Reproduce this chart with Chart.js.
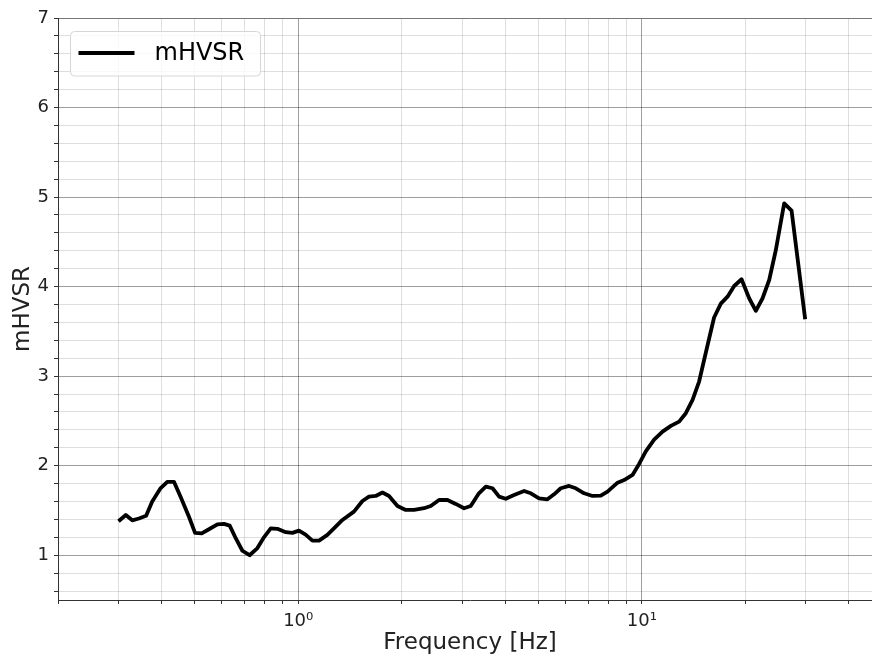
<!DOCTYPE html>
<html>
<head>
<meta charset="utf-8">
<script src="https://cdn.jsdelivr.net/npm/chart.js@4.4.1/dist/chart.umd.min.js"></script>
<style>
  html,body{margin:0;padding:0;background:#fff;overflow:hidden;}
  #wrap{width:889px;height:657px;}
</style>
</head>
<body>
<div id="wrap"><canvas id="hvsr" width="889" height="657"></canvas></div>
<script>
// ===================== DATA =====================
const seriesName='mHVSR';
const freqHz=[0.30,0.315,0.329,0.344,0.361,0.376,0.398,0.416,0.435,0.455,
  0.481,0.501,0.524,0.550,0.582,0.608,0.632,0.658,0.688,0.722,
  0.761,0.795,0.832,0.870,0.920,0.962,1.005,1.051,1.100,1.150,
  1.216,1.286,1.345,1.453,1.538,1.607,1.681,1.759,1.838,1.945,
  2.056,2.174,2.324,2.431,2.570,2.719,2.874,3.039,3.178,3.346,
  3.516,3.677,3.843,4.019,4.249,4.544,4.753,5.023,5.314,5.555,
  5.810,6.143,6.425,6.793,7.187,7.597,7.946,8.501,8.882,9.397,
  9.820,10.27,10.86,11.49,12.15,12.84,13.43,14.05,14.68,15.18,
  15.70,16.23,16.98,17.76,18.57,19.51,20.53,21.47,22.46,23.48,
  24.55,25.96,27.28,28.51,29.88];
const mhvsr=[1.38,1.45,1.39,1.41,1.44,1.60,1.75,1.82,1.82,1.65,
  1.43,1.25,1.245,1.29,1.345,1.35,1.33,1.19,1.05,1.00,
  1.08,1.20,1.30,1.295,1.257,1.25,1.275,1.23,1.163,1.163,
  1.227,1.32,1.394,1.487,1.606,1.655,1.662,1.70,1.662,1.55,
  1.506,1.506,1.525,1.55,1.617,1.617,1.573,1.525,1.55,1.685,
  1.766,1.748,1.655,1.63,1.673,1.718,1.692,1.636,1.625,1.68,
  1.748,1.774,1.748,1.692,1.662,1.666,1.71,1.81,1.84,1.897,
  2.02,2.16,2.29,2.38,2.444,2.492,2.586,2.734,2.94,3.18,
  3.42,3.655,3.81,3.888,4.007,4.082,3.87,3.73,3.87,4.074,
  4.409,4.93,4.848,4.26,3.635];

// axis ticks
const xGridVals=[0.2,0.3,0.4,0.5,0.6,0.7,0.8,0.9,1,2,3,4,5,6,7,8,9,10,20,30,40,50];
const xTickLabels={1:'10\u2070',10:'10\u00b9'};
const yTickLabels=[1,2,3,4,5,6,7];
const yMinorStep=0.2;

// ===================== STYLE =====================
const FONT='"DejaVu Sans", sans-serif';
const MAJOR_GRID='rgba(0,0,0,0.38)';
const MINOR_GRID='rgba(0,0,0,0.13)';

const isDecade=v=>Math.abs(Math.log10(v)-Math.round(Math.log10(v)))<1e-9;
const isInt=v=>Math.abs(v-Math.round(v))<1e-6;

// legend drawn inside the plot, top-left (matplotlib style)
const insideLegend={
  id:'insideLegend',
  afterDatasetsDraw(chart){
    const {ctx,chartArea}=chart;
    const x0=chartArea.left+12.5, y0=chartArea.top+13.5, w=190, h=44.5;
    ctx.save();
    ctx.beginPath();
    ctx.roundRect(x0,y0,w,h,4);
    ctx.fillStyle='rgba(255,255,255,0.8)';
    ctx.fill();
    ctx.strokeStyle='#d6d6d6';
    ctx.lineWidth=1;
    ctx.stroke();
    ctx.beginPath();
    ctx.moveTo(x0+8,y0+21.5);
    ctx.lineTo(x0+64,y0+21.5);
    ctx.strokeStyle='#000';
    ctx.lineWidth=4;
    ctx.stroke();
    ctx.fillStyle='#000';
    ctx.font='24px '+FONT;
    ctx.textBaseline='middle';
    ctx.fillText(chart.data.datasets[0].label,x0+84,y0+22);
    ctx.restore();
  }
};

new Chart(document.getElementById('hvsr').getContext('2d'),{
  type:'line',
  data:{datasets:[{
    label:seriesName,
    data:freqHz.map((f,i)=>({x:f,y:mhvsr[i]})),
    borderColor:'#000',borderWidth:3.8,pointRadius:0,tension:0,
    borderJoinStyle:'round',fill:false
  }]},
  options:{
    responsive:false,animation:false,
    layout:{padding:{top:18,left:0,right:0,bottom:0}},
    plugins:{legend:{display:false},tooltip:{enabled:false}},
    scales:{
      x:{type:'logarithmic',min:0.2,max:50,
        afterFit:s=>{s.height=57;},
        afterBuildTicks:s=>{s.ticks=xGridVals.map(v=>({value:v,major:isDecade(v)}));},
        border:{display:true,color:'#333',width:1},
        grid:{color:c=>isDecade(c.tick.value)?MAJOR_GRID:MINOR_GRID,
              tickColor:'#333',tickLength:4,lineWidth:1},
        ticks:{autoSkip:false,maxRotation:0,padding:7,color:'#222',
               font:{family:FONT,size:18},
               callback:v=>xTickLabels[v]||''},
        title:{display:true,text:'Frequency [Hz]',color:'#222',
               font:{family:FONT,size:23},padding:{top:0,bottom:0}}
      },
      y:{type:'linear',min:0.5,max:7,
        afterFit:s=>{s.width=58;},
        afterBuildTicks:s=>{
          const t=[];
          for(let v=0.6;v<=7.0001;v+=yMinorStep) t.push({value:Math.round(v*10)/10});
          s.ticks=t;
        },
        border:{display:true,color:'#333',width:1},
        grid:{color:c=>c.tick.value===7?'#777':(isInt(c.tick.value)?MAJOR_GRID:MINOR_GRID),
              tickColor:'#333',tickLength:4,lineWidth:1},
        ticks:{autoSkip:false,padding:5,color:'#222',
               font:{family:FONT,size:18},
               callback:v=>yTickLabels.includes(Math.round(v))&&isInt(v)?String(Math.round(v)):''},
        title:{display:true,text:'mHVSR',color:'#222',
               font:{family:FONT,size:23},padding:{top:9,bottom:0}}
      }
    }
  },
  plugins:[insideLegend]
});
</script>
</body>
</html>
